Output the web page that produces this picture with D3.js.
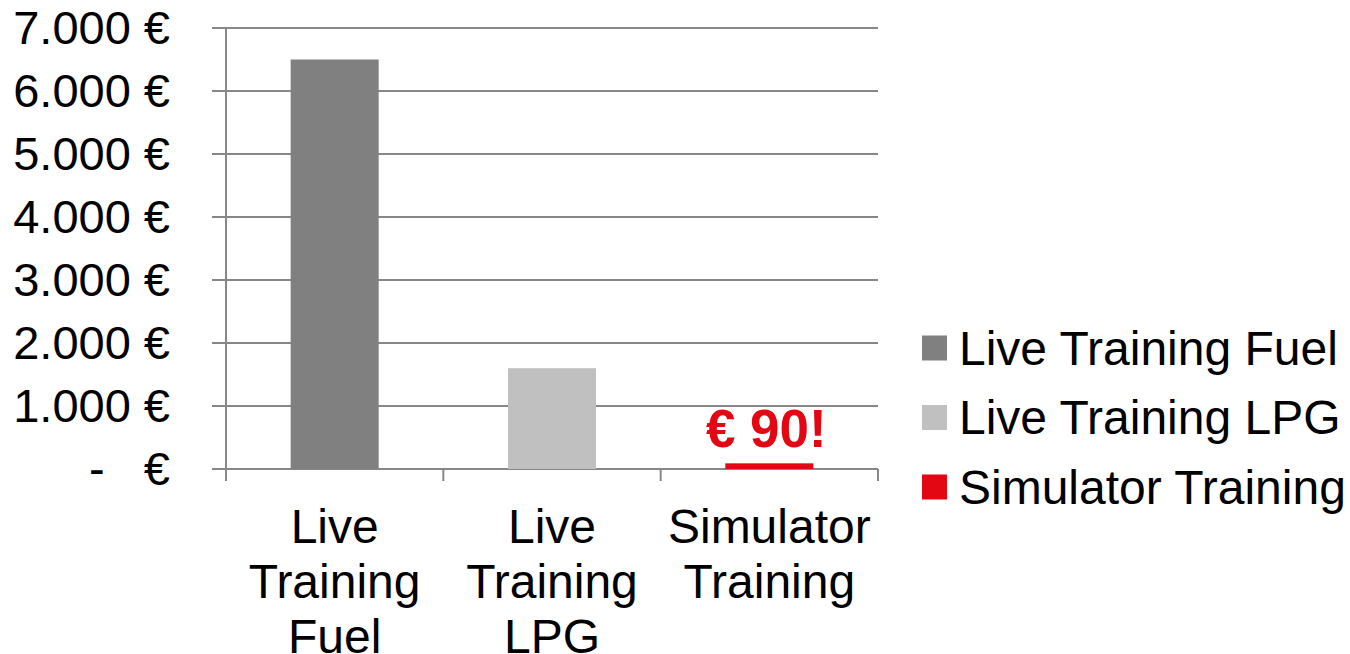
<!DOCTYPE html>
<html>
<head>
<meta charset="utf-8">
<script src="https://cdn.jsdelivr.net/npm/d3@7"></script>
<style>
  body { margin: 0; background: #fff; }
  text { font-family: "Liberation Sans", Arial, sans-serif; }
</style>
</head>
<body>
<svg id="chart" width="1350" height="654"></svg>
<script>
// data
const categories = ["Live Training Fuel", "Live Training LPG", "Simulator Training"];
const categoryLines = [["Live", "Training", "Fuel"], ["Live", "Training", "LPG"], ["Simulator", "Training"]];
const values = [6500, 1600, 90];
const colors = ["#808080", "#c0c0c0", "#e30613"];
const yTicks = [0, 1000, 2000, 3000, 4000, 5000, 6000, 7000];
const yTickLabels = ["-   €", "1.000 €", "2.000 €", "3.000 €", "4.000 €", "5.000 €", "6.000 €", "7.000 €"];
const callout = { index: 2, text: "€ 90!" };

const vars = {
    left: 226, right: 878, top: 28, bottom: 469,
    gridColor: "#878787",
    tickFont: 47,
    catFont: 48,
    legendFont: 48
};

const svg = d3.select("#chart");

const x = d3.scaleBand()
    .domain(categories)
    .range([vars.left, vars.right])
    .padding(0);

const y = d3.scaleLinear()
    .domain([0, 7000])
    .range([vars.bottom, vars.top]);

const barWidth = x.bandwidth() * 0.405;

//
// GRID + AXES
//

svg.append("g")
    .attr("class", "grid")
    .selectAll("line")
    .data(yTicks)
    .enter().append("line")
        .attr("x1", vars.left - 14)
        .attr("x2", vars.right)
        .attr("y1", d => y(d))
        .attr("y2", d => y(d))
        .style("stroke", vars.gridColor)
        .style("stroke-width", 2);

svg.append("line")
    .attr("x1", vars.left).attr("x2", vars.left)
    .attr("y1", vars.top).attr("y2", vars.bottom + 12)
    .style("stroke", vars.gridColor)
    .style("stroke-width", 2);

// category boundary ticks
const bounds = categories.map(c => x(c) + x.bandwidth());
svg.append("g")
    .selectAll("line")
    .data(bounds)
    .enter().append("line")
        .attr("x1", d => d).attr("x2", d => d)
        .attr("y1", vars.bottom).attr("y2", vars.bottom + 12)
        .style("stroke", vars.gridColor)
        .style("stroke-width", 2);

// y labels
svg.append("g")
    .selectAll("text")
    .data(yTicks)
    .enter().append("text")
        .attr("x", 170)
        .attr("y", d => y(d))
        .attr("dy", "0.35em")
        .style("font-size", vars.tickFont + "px")
        .style("text-anchor", "end")
        .style("white-space", "pre")
        .attr("xml:space", "preserve")
        .text((d, i) => yTickLabels[i]);

//
// BARS
//

svg.append("g")
    .selectAll("rect")
    .data(values)
    .enter().append("rect")
        .attr("x", (d, i) => x(categories[i]) + (x.bandwidth() - barWidth) / 2)
        .attr("y", d => y(d))
        .attr("width", barWidth)
        .attr("height", d => y(0) - y(d))
        .style("fill", (d, i) => colors[i]);

svg.append("text")
    .attr("x", x(categories[callout.index]) + x.bandwidth() / 2 - 3)
    .attr("y", 447)
    .style("font-size", "53px")
    .style("font-weight", "bold")
    .style("fill", colors[callout.index])
    .style("text-anchor", "middle")
    .text(callout.text);

// category labels
const catGroup = svg.append("g")
    .selectAll("text")
    .data(categoryLines)
    .enter().append("text")
        .attr("x", (d, i) => x(categories[i]) + x.bandwidth() / 2)
        .attr("y", 543)
        .style("font-size", vars.catFont + "px")
        .style("text-anchor", "middle");

catGroup.selectAll("tspan")
    .data(d => d)
    .enter().append("tspan")
        .attr("x", function () { return d3.select(this.parentNode).attr("x"); })
        .attr("dy", (d, i) => i === 0 ? 0 : 55)
        .text(d => d);

//
// LEGEND
//

const legend = svg.append("g")
    .selectAll("g")
    .data(categories)
    .enter().append("g")
        .attr("transform", (d, i) => `translate(922, ${348 + i * 69.5})`);

legend.append("rect")
    .attr("x", 0)
    .attr("y", -12.5)
    .attr("width", 25)
    .attr("height", 25)
    .style("fill", (d, i) => colors[i]);

legend.append("text")
    .attr("x", 37)
    .attr("y", 0)
    .attr("dy", "0.35em")
    .style("font-size", vars.legendFont + "px")
    .text(d => d);
</script>
</body>
</html>
